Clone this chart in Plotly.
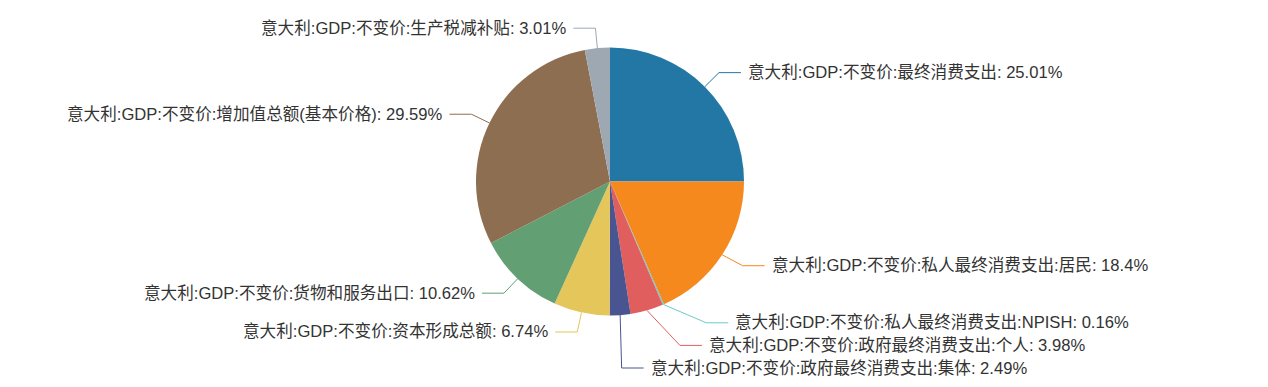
import math
import plotly.graph_objects as go

# ---------------- data ----------------
labels = [
    "意大利:GDP:不变价:最终消费支出",
    "意大利:GDP:不变价:私人最终消费支出:居民",
    "意大利:GDP:不变价:私人最终消费支出:NPISH",
    "意大利:GDP:不变价:政府最终消费支出:个人",
    "意大利:GDP:不变价:政府最终消费支出:集体",
    "意大利:GDP:不变价:资本形成总额",
    "意大利:GDP:不变价:货物和服务出口",
    "意大利:GDP:不变价:增加值总额(基本价格)",
    "意大利:GDP:不变价:生产税减补贴",
]
values = [25.01, 18.4, 0.16, 3.98, 2.49, 6.74, 10.62, 29.59, 3.01]
colors = ["#2377a4", "#f5891d", "#6ccaca", "#e15e5e", "#485591",
          "#e4c65a", "#62a073", "#8d6e51", "#9ea8b2"]

# ---------------- geometry ----------------
W, H = 1268, 387
CX, CY, R = 610, 181.5, 134
LEN1, LEN2, DIST = 20, 22, 5
LABEL_H = 22.6
FONT_SIZE = 16.6
FONT = "Liberation Sans, 'Noto Sans CJK SC', sans-serif"

total = sum(values)
items = []
cum = 0.0
for i, v in enumerate(values):
    mid = (cum + v / 2) / total * 2 * math.pi
    cum += v
    ux, uy = math.sin(mid), -math.cos(mid)
    d = 1 if ux >= 0 else -1
    x1 = CX + (R + LEN1) * ux
    y1 = CY + (R + LEN1) * uy
    items.append(dict(i=i, d=d, x0=CX + R * ux, y0=CY + R * uy,
                      x1=x1, y=y1, lx=x1 + d * (LEN2 + DIST), pct=v / total * 100))

# ECharts-like label overlap avoidance
for side in (1, -1):
    lst = sorted([it for it in items if it["d"] == side], key=lambda t: t["y"])
    adjusted = False
    last = -1e9
    for it in lst:
        top = it["y"] - LABEL_H / 2
        if top < last:
            it["y"] += last - top
            adjusted = True
        last = it["y"] + LABEL_H / 2
    if adjusted:
        rA = R + LEN1
        for semi in ([t for t in lst if t["y"] <= CY], [t for t in lst if t["y"] > CY]):
            maxy, rB = 0, None
            for it in semi:
                dy = abs(it["y"] - CY)
                if dy >= maxy:
                    dx = it["lx"] - CX - LEN2 * side
                    rB = math.sqrt(dy * dy / (1 - dx * dx / rA / rA)) if abs(dx) < rA else rA
                    maxy = dy
            for it in semi:
                dy = abs(it["y"] - CY)
                dxn = math.sqrt(max(0.0, 1 - dy * dy / (rB * rB))) * rA
                it["lx"] = CX + (dxn + LEN2) * side

fig = go.Figure()
fig.add_trace(go.Pie(
    labels=labels, values=values, sort=False, direction="clockwise", rotation=0,
    marker=dict(colors=colors, line=dict(width=0)), textinfo="none",
    hoverinfo="label+percent", showlegend=False,
    domain=dict(x=[(CX - R) / W, (CX + R) / W],
                y=[(H - CY - R) / H, (H - CY + R) / H]),
))

annotations = []
for it in items:
    d = it["d"]
    x2 = it["lx"] - d * DIST
    x1 = x2 - d * LEN2
    fig.add_trace(go.Scatter(
        x=[it["x0"], x1, x2], y=[it["y0"], it["y"], it["y"]], mode="lines",
        line=dict(color=colors[it["i"]], width=1), hoverinfo="skip", showlegend=False,
    ))
    annotations.append(dict(
        x=it["lx"], y=it["y"], xref="x", yref="y", showarrow=False,
        xanchor="left" if d > 0 else "right", yanchor="middle",
        text=f"{labels[it['i']]}: {round(it['pct'], 2):g}%",
        font=dict(size=FONT_SIZE, color="#333333", family=FONT),
    ))

fig.update_layout(
    width=W, height=H, margin=dict(l=0, r=0, t=0, b=0),
    paper_bgcolor="white", plot_bgcolor="rgba(0,0,0,0)",
    xaxis=dict(range=[0, W], visible=False, fixedrange=True),
    yaxis=dict(range=[H, 0], visible=False, fixedrange=True),
    annotations=annotations, font=dict(family=FONT),
)
fig.write_html("out.html", config={"displayModeBar": False},
               post_script="document.body.style.margin='0';")
